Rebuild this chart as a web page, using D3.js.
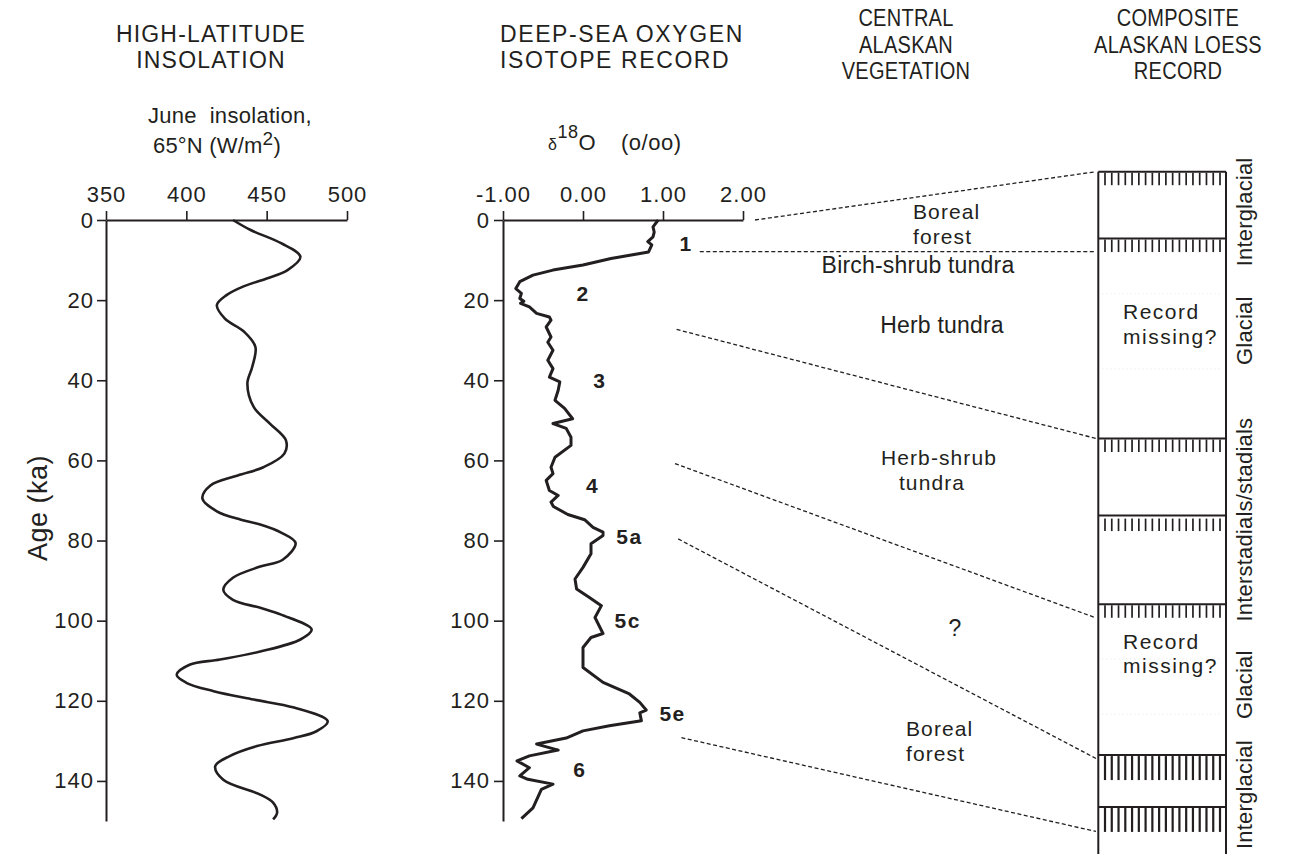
<!DOCTYPE html>
<html><head><meta charset="utf-8">
<script src="https://cdn.jsdelivr.net/npm/d3@7"></script>
<style>
body{margin:0;background:#fff;}
text{font-family:"Liberation Sans",Arial,Helvetica,sans-serif;fill:#231f20;letter-spacing:0.5px;}
</style></head><body>
<svg id="c" width="1292" height="854"></svg>
<script>
// ---------------- DATA ----------------
const ageTicks = [0, 20, 40, 60, 80, 100, 120, 140];
const insolTicks = [350, 400, 450, 500];
const isoTicks = [-1, 0, 1, 2];

// June insolation 65N (W/m2) vs age (ka)
const insolAge = [0, 2.5, 5.8, 9.2, 12.5, 14.6, 16.5, 18.75, 21.25, 24.6, 27.9, 31.7, 36.7, 40.8, 46.7, 50.8, 55, 58.3, 61.7, 63.75, 66.25, 69.5, 72.7, 74.8, 76, 78, 80.6, 84.8, 86.5, 89.3, 92.3, 94.8, 96.8, 98.5, 102.2, 104.7, 107.7, 109.7, 111, 113.5, 115.5, 117.6, 119.7, 121.7, 125.1, 127.6, 129.3, 131.3, 133.8, 136.3, 139.7, 143.4, 145.4, 147.9, 149.6];
const insolValue = [429, 440, 459, 471, 463, 450, 436, 425, 419, 424, 436, 443, 441, 438, 442, 452, 462, 461, 448, 432, 415, 410, 419, 434, 446, 459, 468, 460, 446, 429, 423, 429, 446, 459, 478, 471, 446, 421, 402, 394, 400, 417, 442, 467, 488, 481, 467, 444, 427, 418, 423, 446, 454, 456.5, 454];

// deep-sea d18O (o/oo) vs age (ka)
const isoAge = [0, 1.7, 3.0, 4.2, 5.4, 6.2, 7.5, 8.0, 9.6, 11.25, 12.5, 13.75, 15.4, 17.1, 18.3, 19.6, 20.3, 20.8, 21.7, 23.3, 24.2, 25, 26.7, 29.2, 30.5, 32.5, 35, 37.1, 39.2, 40.4, 42.5, 45, 47, 49.6, 50.8, 52, 54.2, 56.25, 59.2, 61.7, 63.3, 65, 67.5, 68.75, 70.4, 71.5, 73.5, 74.8, 76.7, 77.9, 78.75, 80.8, 83.3, 86.7, 89.6, 92.1, 94.2, 96.25, 99.2, 103.2, 104.2, 106.7, 111.7, 115.4, 118.3, 120.4, 122.3, 123, 125, 126.25, 127.5, 129.3, 130.8, 132.3, 133.75, 135, 136.7, 138.75, 139.6, 140.8, 142.1, 146.7, 149.4];
const isoValue = [0.94, 0.875, 0.89, 0.875, 0.81, 0.86, 0.83, 0.82, 0.35, 0.0, -0.375, -0.625, -0.79, -0.84, -0.77, -0.79, -0.74, -0.78, -0.67, -0.58, -0.42, -0.4, -0.46, -0.4, -0.44, -0.375, -0.44, -0.375, -0.42, -0.29, -0.31, -0.35, -0.23, -0.13, -0.375, -0.21, -0.15, -0.15, -0.35, -0.4, -0.375, -0.46, -0.42, -0.31, -0.4, -0.37, -0.19, 0.02, 0.125, 0.25, 0.25, 0.1, 0.1, 0.0, -0.1, -0.08, 0.08, 0.23, 0.15, 0.25, 0.1, 0.0, 0.0, 0.25, 0.58, 0.71, 0.79, 0.71, 0.73, 0.33, 0.0, -0.21, -0.58, -0.31, -0.67, -0.825, -0.67, -0.79, -0.69, -0.375, -0.52, -0.625, -0.77];

// marine isotope stage labels (age, d18O position)
const stageNames = ["1", "2", "3", "4", "5a", "5c", "5e", "6"];
const stageAge = [5.75, 18.25, 40, 66.25, 79, 100, 123.25, 137.25];
const stageIso = [1.29, 0.0, 0.21, 0.12, 0.58, 0.56, 1.12, -0.04];

// loess column: soil boundaries (relative depth 0-100) and kind of soil
const loessDepth = [0, 9.8, 39.1, 50.4, 63.4, 85.5, 93.1];
const loessSoil = ["thin", "thin", "thin", "thin", "thin", "thick", "thick"];
const loessLabels = ["Interglacial", "Glacial", "Interstadials/stadials", "Glacial", "Interglacial"];
const loessLabelDepth = [5.9, 23.3, 51.0, 75.2, 91.3];
const missingDepth = [21.6, 69.9];

// vegetation zone correlation lines: start (age, d18O position) -> end (loess depth)
const vegStartAge = [0, 7.9, 27.3, 60.8, 79.6, 129.2];
const vegStartIso = [2.15, 1.46, 1.17, 1.15, 1.19, 1.23];
const vegEndDepth = [0, 11.7, 39.1, 65.4, 86.0, 96.7];
const vegNames = [["Boreal", "forest"], ["Birch-shrub tundra"], ["Herb tundra"], ["Herb-shrub", "tundra"], ["?"], ["Boreal", "forest"]];

// ---------------- DRAW ----------------
const svg = d3.select("#c");
const ink = "#231f20";

const y = d3.scaleLinear().domain([0, 150]).range([220, 821]);
const xIns = d3.scaleLinear().domain([350, 500]).range([106, 347]);
const xIso = d3.scaleLinear().domain([-1, 2]).range([503, 743]);
const yL = d3.scaleLinear().domain([0, 100]).range([171.7, 854]);

function styleAxis(g, fs) {
  g.selectAll("path.domain").attr("stroke", ink).attr("stroke-width", 2);
  g.selectAll(".tick line").attr("stroke", ink).attr("stroke-width", 1.6);
  g.selectAll(".tick text").attr("fill", ink).style("font-size", fs + "px")
    .style("font-family", '"Liberation Sans",Arial,sans-serif').style("letter-spacing", "1px");
}

// Left panel axes
const gInsX = svg.append("g").attr("transform", "translate(0,220)")
  .call(d3.axisTop(xIns).tickValues(insolTicks).tickSize(9).tickSizeOuter(0).tickPadding(9).tickFormat(d3.format("d")));
styleAxis(gInsX, 22);
const gInsY = svg.append("g").attr("transform", "translate(106,0)")
  .call(d3.axisLeft(y).tickValues(ageTicks).tickSize(9).tickSizeOuter(0).tickPadding(3).tickFormat(d3.format("d")));
styleAxis(gInsY, 22);

// Middle panel axes
const gIsoX = svg.append("g").attr("transform", "translate(0,220)")
  .call(d3.axisTop(xIso).tickValues(isoTicks).tickSize(9).tickSizeOuter(0).tickPadding(9).tickFormat(d => d.toFixed(2)));
styleAxis(gIsoX, 22);
const gIsoY = svg.append("g").attr("transform", "translate(503,0)")
  .call(d3.axisLeft(y).tickValues(ageTicks).tickSize(9).tickSizeOuter(0).tickPadding(4).tickFormat(d3.format("d")));
styleAxis(gIsoY, 22);

// Curves
const insData = insolAge.map((a, i) => [a, insolValue[i]]);
svg.append("path").datum(insData)
  .attr("fill", "none").attr("stroke", ink).attr("stroke-width", 2.6).attr("stroke-linejoin", "round")
  .attr("d", d3.line().x(d => xIns(d[1])).y(d => y(d[0])).curve(d3.curveCatmullRom.alpha(0.5)));

const isoData = isoAge.map((a, i) => [a, isoValue[i]]);
svg.append("path").datum(isoData)
  .attr("fill", "none").attr("stroke", ink).attr("stroke-width", 3).attr("stroke-linejoin", "round")
  .attr("d", d3.line().x(d => xIso(d[1])).y(d => y(d[0])));

// Stage labels
svg.append("g").selectAll("text").data(stageNames).join("text")
  .attr("x", (d, i) => xIso(stageIso[i])).attr("y", (d, i) => y(stageAge[i]))
  .attr("text-anchor", "middle").attr("dominant-baseline", "central")
  .style("font-size", "21px").style("font-weight", "bold").style("letter-spacing", "1.5px")
  .text(d => d);

// Multi-line text helper (one text element, tspans per line)
function block(x, y0, arr, fs, anchor, opts) {
  opts = opts || {};
  const t = svg.append("text").attr("text-anchor", anchor || "middle")
    .style("font-size", fs + "px").style("letter-spacing", (opts.ls != null ? opts.ls : 0.3) + "px");
  if (opts.sx) t.attr("transform", `translate(${x},0) scale(${opts.sx},1) translate(${-x},0)`);
  arr.forEach((s, i) => t.append("tspan")
    .attr("x", opts.xs ? opts.xs[i] : x)
    .attr("y", y0 + i * (opts.lh || 26.6)).text(s));
  return t;
}
block(211, 41.7, ["HIGH-LATITUDE", "INSOLATION"], 23, "middle", {ls: 1.2});
block(500, 41.7, ["DEEP-SEA OXYGEN", "ISOTOPE RECORD"], 23, "start", {ls: 1.6});
block(906, 26, ["CENTRAL", "ALASKAN", "VEGETATION"], 23, "middle", {sx: 0.87});
block(1178, 26, ["COMPOSITE", "ALASKAN LOESS", "RECORD"], 23, "middle", {sx: 0.87});

// Axis titles
svg.append("text").attr("x", 230).attr("y", 123).attr("text-anchor", "middle").style("font-size", "22px")
  .style("letter-spacing", "0.3px").attr("xml:space", "preserve").text("June  insolation,");
const t2 = svg.append("text").attr("x", 153).attr("y", 153).style("font-size", "22px").style("letter-spacing", "0.2px");
t2.append("tspan").text("65°N (W/m");
t2.append("tspan").attr("dy", -8).style("font-size", "19px").text("2");
t2.append("tspan").attr("dy", 8).text(")");

const t3 = svg.append("text").attr("x", 548).attr("y", 150).style("font-size", "22px");
t3.append("tspan").style("font-size", "16px").text("δ");
t3.append("tspan").attr("dy", -12).style("font-size", "18px").text("18");
t3.append("tspan").attr("dy", 12).text("O");
t3.append("tspan").attr("x", 621).text("(o/oo)");

svg.append("text").attr("transform", "translate(47,508) rotate(-90)")
  .attr("text-anchor", "middle").style("font-size", "27px").text("Age (ka)");

// Vegetation correlation lines
const xEnd = 1096;
vegStartAge.forEach((a, i) => {
  svg.append("line")
    .attr("x1", xIso(vegStartIso[i])).attr("y1", y(a))
    .attr("x2", xEnd).attr("y2", i === 1 ? y(a) : yL(vegEndDepth[i]))
    .attr("stroke", ink).attr("stroke-width", 1.3).attr("stroke-dasharray", "4,2.5");
});

// Vegetation labels
const vegLayout = [
  {x: 913, y: 219, a: "start", fs: 21},
  {x: 918, y: 273, a: "middle", fs: 23},
  {x: 942, y: 333, a: "middle", fs: 23},
  {x: 939, y: 465, a: "middle", xs: [939, 932], fs: 21},
  {x: 955, y: 636, a: "middle", fs: 23},
  {x: 906, y: 736, a: "start", fs: 21}
];
vegNames.forEach((arr, i) => {
  const L = vegLayout[i];
  block(L.x, L.y, arr, L.fs, L.a, {ls: L.fs === 21 ? 1.1 : 0.2, lh: 24.5, xs: L.xs});
});

// Loess column
const bx0 = 1098.3, bx1 = 1226;
svg.append("line").attr("x1", bx0).attr("x2", bx0).attr("y1", yL(0)).attr("y2", 854).attr("stroke", ink).attr("stroke-width", 2);
svg.append("line").attr("x1", bx1).attr("x2", bx1).attr("y1", yL(0)).attr("y2", 854).attr("stroke", ink).attr("stroke-width", 2);

// faint dotted guide lines
[17.9, 28.9, 71.4, 79.5].forEach(d => svg.append("line")
  .attr("x1", bx0 + 4).attr("x2", bx1 - 4).attr("y1", yL(d)).attr("y2", yL(d))
  .attr("stroke", "#e4e4e4").attr("stroke-width", 1).attr("stroke-dasharray", "1,3"));

const nTicks = 18;
loessDepth.forEach((d, i) => {
  const yy = yL(d);
  svg.append("line").attr("x1", bx0).attr("x2", bx1).attr("y1", yy).attr("y2", yy)
    .attr("stroke", ink).attr("stroke-width", 2);
  const thick = loessSoil[i] === "thick";
  const len = thick ? 24 : 12.5;
  const off = i === 3 ? 3 : 1;
  const xs = d3.range(nTicks).map(k => 1105 + k * (115 / (nTicks - 1)));
  svg.append("g").selectAll("line").data(xs).join("line")
    .attr("x1", x => x).attr("x2", x => x).attr("y1", yy + off).attr("y2", yy + off + len)
    .attr("stroke", ink).attr("stroke-width", thick ? 2.2 : 1.7);
});

// Record missing labels
missingDepth.forEach(d => {
  block(1123, yL(d), ["Record", "missing?"], 21, "start", {ls: 1.5, lh: 24.5});
});

// rotated column labels
loessLabels.forEach((t, i) => {
  svg.append("text").attr("transform", `translate(1252,${yL(loessLabelDepth[i])}) rotate(-90)`)
    .attr("text-anchor", "middle").style("font-size", "22px").style("letter-spacing", "0.2px").text(t);
});
</script>
</body></html>
